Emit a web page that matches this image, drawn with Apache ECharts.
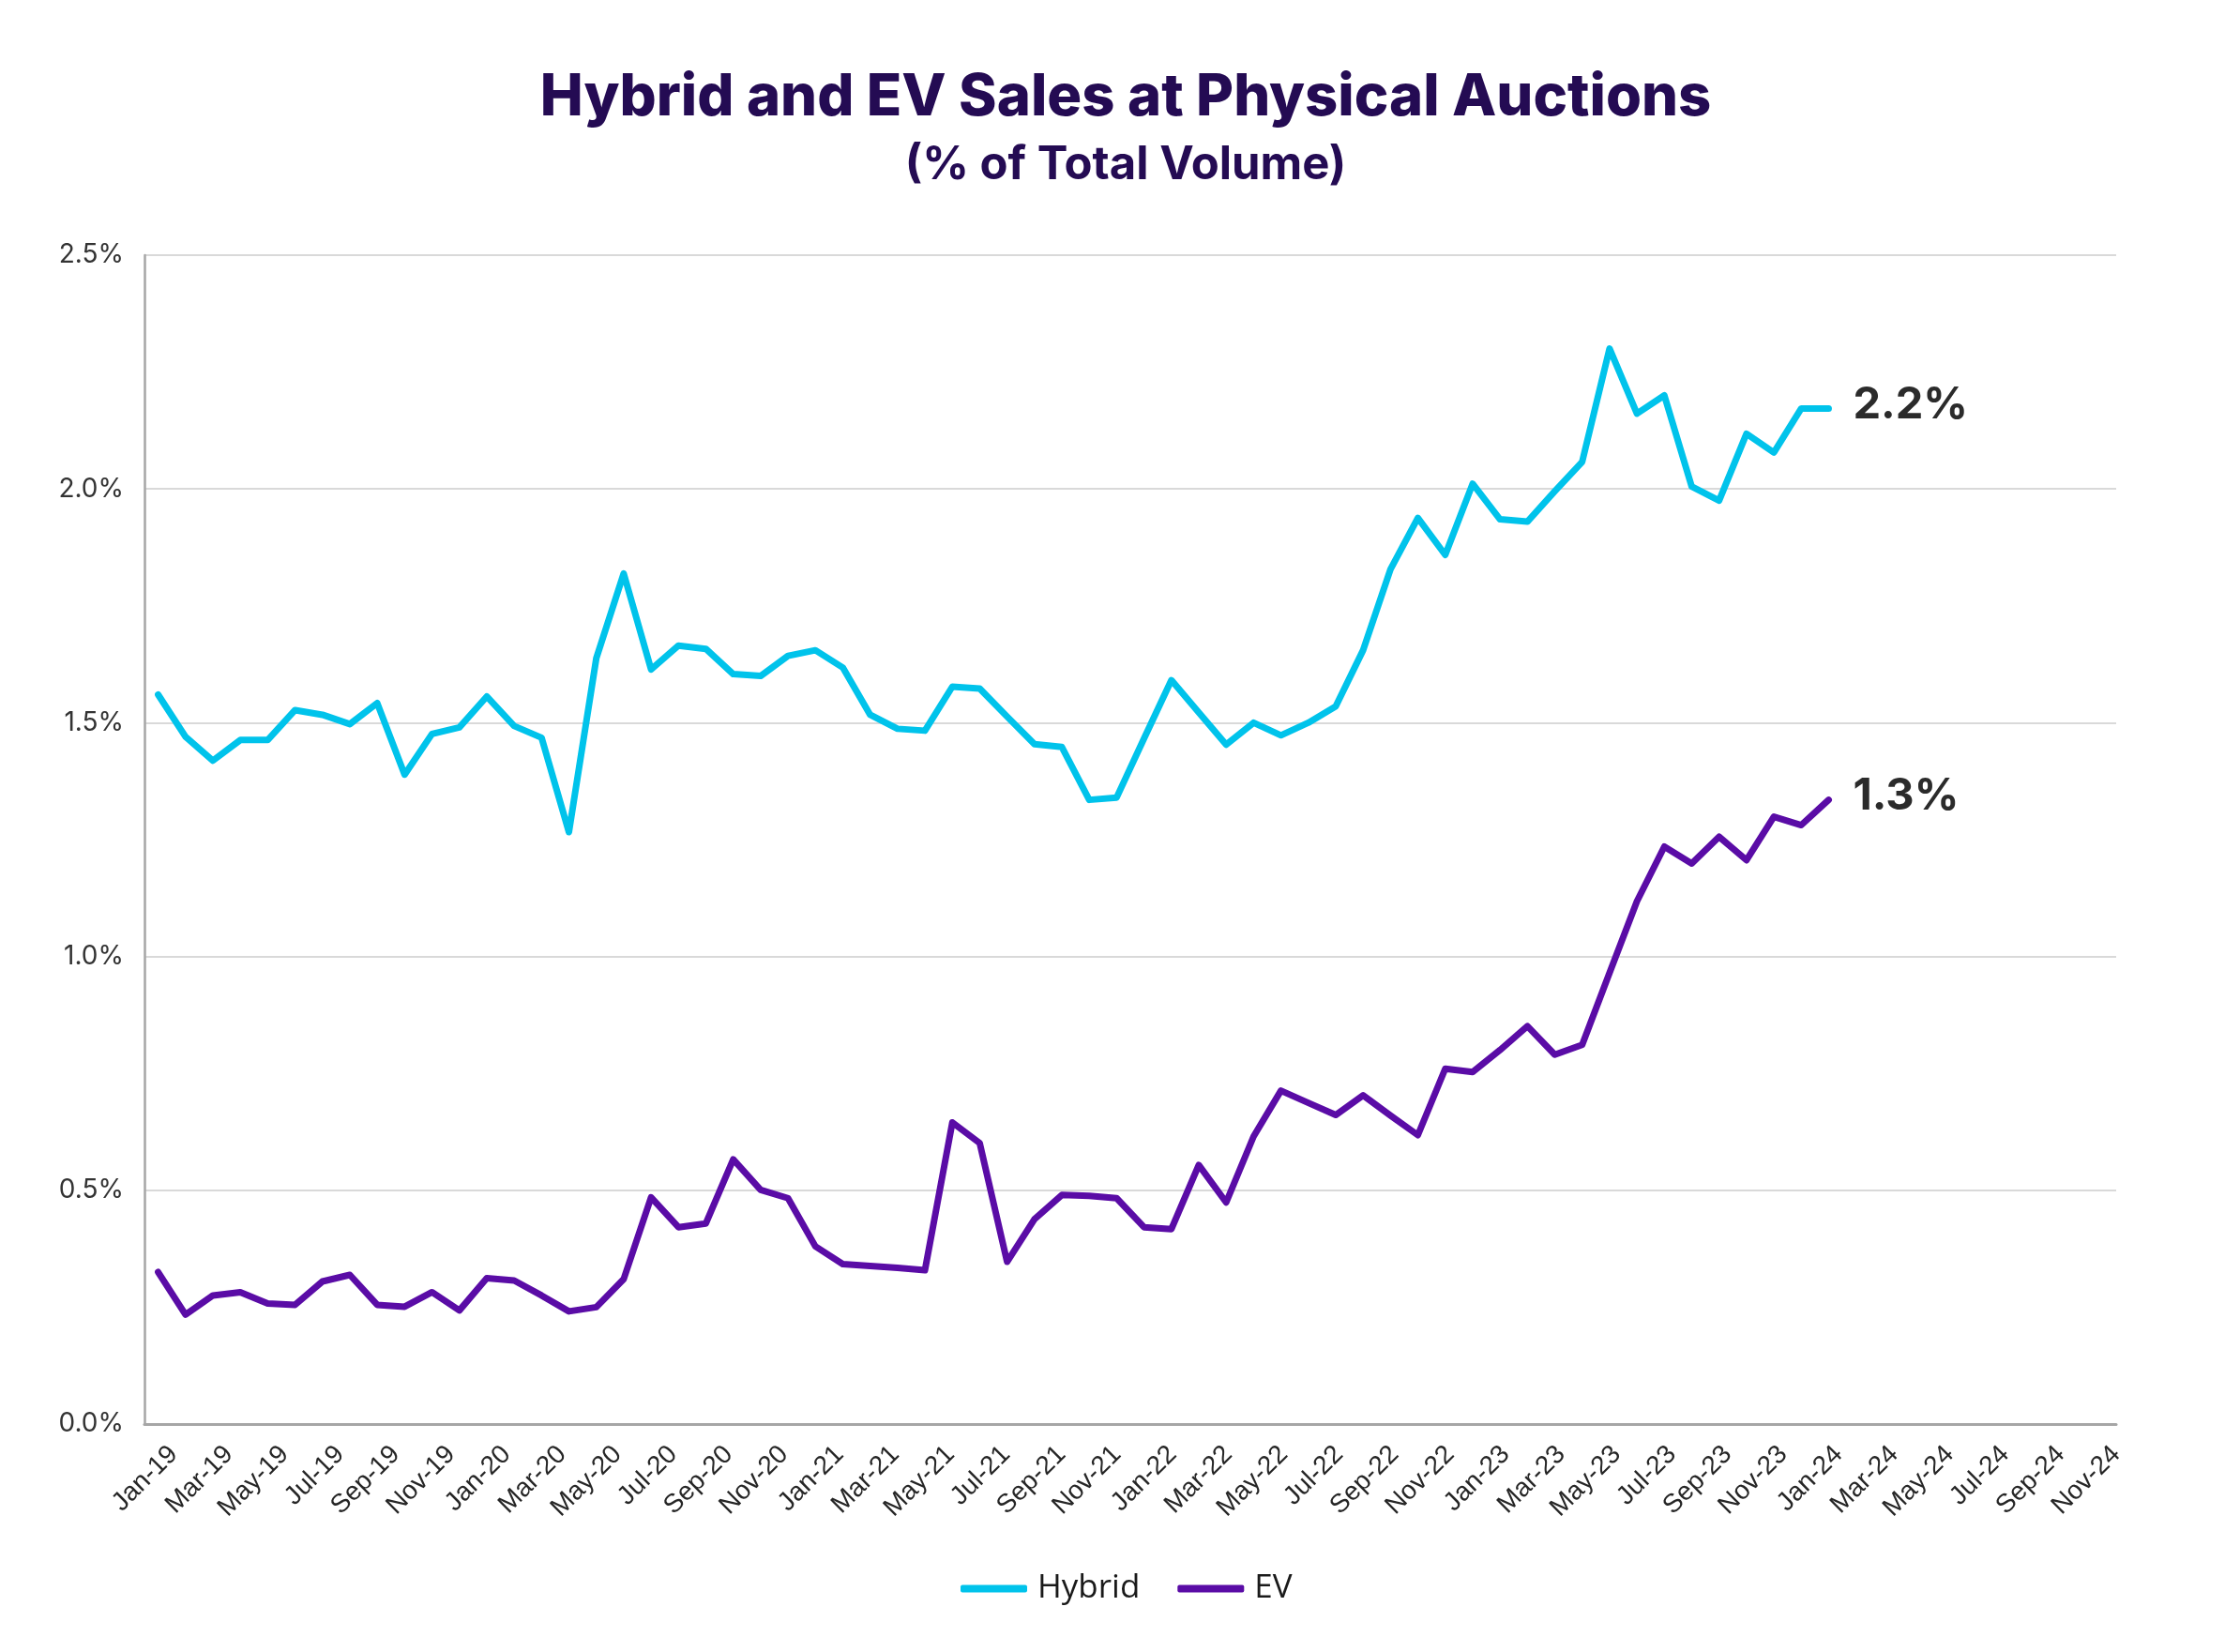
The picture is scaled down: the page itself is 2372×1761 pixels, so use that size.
<!DOCTYPE html>
<html><head><meta charset="utf-8">
<script src="https://cdn.jsdelivr.net/npm/echarts@6/dist/echarts.min.js"></script>
<style>html,body{margin:0;padding:0;background:#fff}#c{width:2372px;height:1761px}</style>
</head><body><div id="c"></div>
<script>
const months = ['Dec-18',
 'Jan-19','Feb-19','Mar-19','Apr-19','May-19','Jun-19','Jul-19','Aug-19','Sep-19','Oct-19','Nov-19','Dec-19',
 'Jan-20','Feb-20','Mar-20','Apr-20','May-20','Jun-20','Jul-20','Aug-20','Sep-20','Oct-20','Nov-20','Dec-20',
 'Jan-21','Feb-21','Mar-21','Apr-21','May-21','Jun-21','Jul-21','Aug-21','Sep-21','Oct-21','Nov-21','Dec-21',
 'Jan-22','Feb-22','Mar-22','Apr-22','May-22','Jun-22','Jul-22','Aug-22','Sep-22','Oct-22','Nov-22','Dec-22',
 'Jan-23','Feb-23','Mar-23','Apr-23','May-23','Jun-23','Jul-23','Aug-23','Sep-23','Oct-23','Nov-23','Dec-23',
 'Jan-24','Feb-24','Mar-24','Apr-24','May-24','Jun-24','Jul-24','Aug-24','Sep-24','Oct-24','Nov-24'];

// tick-label months (Jan-19 .. Nov-24), every other one is printed
const labelMonths = months.slice(1);

const hybrid = [1.56,
 1.47,1.419,1.463,1.463,1.527,1.517,1.497,1.542,1.389,1.476,1.49,1.556,
 1.493,1.468,1.266,1.638,1.819,1.614,1.665,1.658,1.604,1.60,1.643,1.655,
 1.618,1.517,1.487,1.483,1.577,1.573,1.513,1.454,1.448,1.335,1.34,1.466,
 1.591,1.522,1.453,1.50,1.473,1.50,1.535,1.655,1.828,1.938,1.859,2.011,
 1.935,1.93,1.995,2.058,2.30,2.161,2.20,2.005,1.975,2.118,2.078,2.172,
 2.172];

const ev = [0.325,
 0.234,0.275,0.282,0.258,0.255,0.305,0.319,0.255,0.251,0.282,0.243,0.312,
 0.307,0.275,0.241,0.25,0.31,0.485,0.421,0.429,0.566,0.501,0.483,0.380,
 0.342,0.338,0.334,0.329,0.645,0.601,0.347,0.438,0.49,0.488,0.483,0.421,
 0.417,0.554,0.474,0.615,0.713,0.687,0.661,0.703,0.66,0.618,0.76,0.753,
 0.80,0.851,0.79,0.811,0.965,1.118,1.235,1.199,1.256,1.206,1.299,1.281,
 1.335];

const seriesNames = ['Hybrid', 'EV'];
const colors = ['#00c3eb', '#5a0ca6'];

const chart = echarts.init(document.getElementById('c'), null, {renderer: 'canvas'});
const endLabel = {
  show: true,
  formatter: p => Number(p.value).toFixed(1) + '%',
  distance: 26,
  offset: [0, -4],
  fontFamily: 'Inter',
  fontWeight: 700,
  fontSize: 47,
  color: '#2b2b2b'
};
chart.setOption({
  animation: false,
  backgroundColor: '#ffffff',
  title: [
    {text: 'Hybrid and EV Sales at Physical Auctions', left: 1200, top: 74, textAlign: 'center',
     padding: 0,
     textStyle: {fontFamily: 'Inter', fontWeight: 800, fontSize: 61.5, color: '#240b53'}},
    {text: '(% of Total Volume)', left: 1200, top: 152, textAlign: 'center',
     padding: 0,
     textStyle: {fontFamily: 'Inter', fontWeight: 700, fontSize: 49, color: '#240b53'}}
  ],
  grid: [
    {left: 154, right: 116, top: 272, bottom: 243, containLabel: false},
    {left: 185, right: 116, top: 272, bottom: 243, containLabel: false}
  ],
  legend: {
    data: seriesNames,
    left: 1019, top: 1671,
    icon: 'roundRect', itemWidth: 71, itemHeight: 8, itemGap: 40,
    textStyle: {fontFamily: 'Open Sans', fontSize: 35, color: '#1a1a1a', padding: [0, 0, 0, 6]}
  },
  xAxis: [
    {
      type: 'category',
      gridIndex: 0,
      data: months,
      boundaryGap: true,
      axisLine: {show: true, lineStyle: {color: '#a6a6a6', width: 3}},
      axisTick: {show: false},
      splitLine: {show: false},
      axisLabel: {show: false}
    },
    {
      type: 'category',
      gridIndex: 1,
      data: labelMonths,
      boundaryGap: false,
      axisLine: {show: false},
      axisTick: {show: false},
      splitLine: {show: false},
      axisLabel: {
        rotate: 45,
        interval: 1,
        margin: 28,
        fontFamily: 'Liberation Sans',
        fontSize: 28,
        color: '#262626'
      }
    }
  ],
  yAxis: [
    {
      type: 'value',
      gridIndex: 0,
      min: 0, max: 2.5, interval: 0.5,
      axisLine: {show: true, lineStyle: {color: '#a6a6a6', width: 2.5}},
      axisTick: {show: false},
      splitLine: {show: true, lineStyle: {color: '#d9d9d9', width: 2}},
      axisLabel: {
        formatter: v => v.toFixed(1) + '%',
        margin: 22,
        fontFamily: 'Inter',
        fontSize: 28,
        color: '#333333'
      }
    },
    {
      type: 'value', gridIndex: 1, min: 0, max: 2.5, interval: 0.5, show: false
    }
  ],
  series: [
    {name: seriesNames[0], type: 'line', xAxisIndex: 0, yAxisIndex: 0, data: hybrid,
     symbol: 'none', showSymbol: false,
     color: colors[0], lineStyle: {width: 7, color: colors[0], cap: 'round', join: 'round'},
     endLabel: endLabel, z: 3},
    {name: seriesNames[1], type: 'line', xAxisIndex: 0, yAxisIndex: 0, data: ev,
     symbol: 'none', showSymbol: false,
     color: colors[1], lineStyle: {width: 7, color: colors[1], cap: 'round', join: 'round'},
     endLabel: endLabel, z: 4}
  ]
});
</script></body></html>
